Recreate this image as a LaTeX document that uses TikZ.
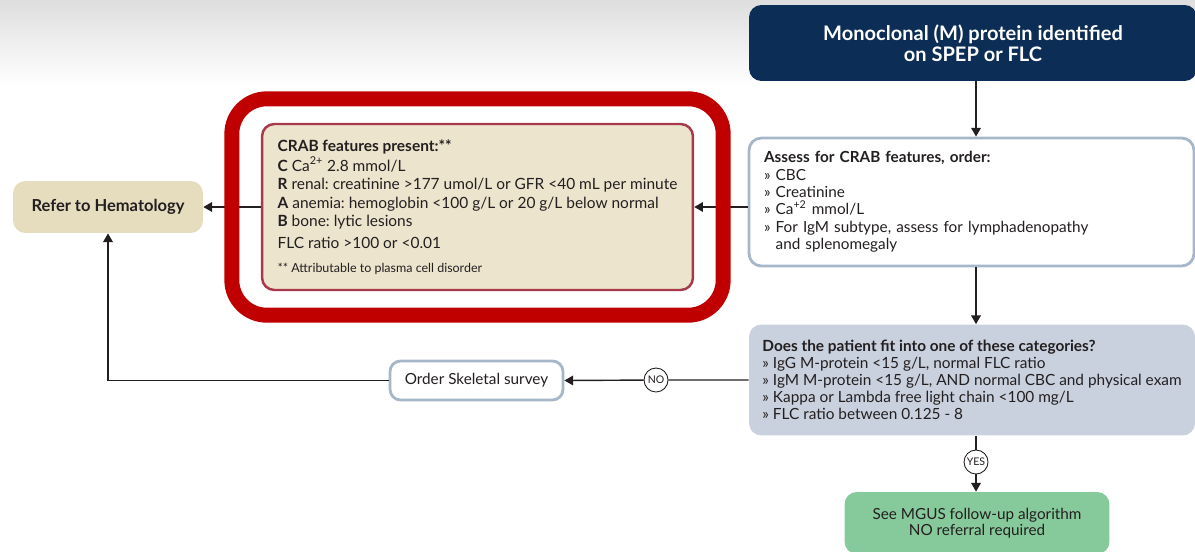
\documentclass[tikz,border=0pt]{standalone}
\usepackage{fontspec}
\setmainfont{Lato}
\frenchspacing
\usetikzlibrary{arrows.meta,fit}

\definecolor{navy}{RGB}{12,45,85}
\definecolor{edgeblue}{RGB}{167,183,202}
\definecolor{catfill}{RGB}{201,209,222}
\definecolor{mgusgreen}{RGB}{134,201,155}
\definecolor{tan}{RGB}{230,221,191}
\definecolor{crabfill}{RGB}{236,228,205}
\definecolor{crabedge}{RGB}{168,57,77}
\definecolor{alertred}{RGB}{192,0,0}
\definecolor{ink}{RGB}{35,31,32}

\tikzset{
  box/.style={rounded corners=7pt, inner sep=0pt, text=ink,
    font=\fontsize{8.75}{9.6}\selectfont},
  listbox/.style={box, align=left, inner xsep=0.3cm},
  arr/.style={-{Triangle[length=5pt,width=5.5pt]}, line width=0.8pt, ink},
  tag/.style={circle, draw=ink, fill=white, line width=0.5pt, inner sep=0pt,
    minimum size=0.48cm, font=\fontsize{6}{6}\selectfont, text=ink}
}

\begin{document}
\begin{tikzpicture}[x=0.02cm,y=-0.02cm]
\useasboundingbox (0,0) rectangle (1195,551);
\clip (0,0) rectangle (1195,551);
\shade[top color=black!13, bottom color=white] (0,0) rectangle (1195,85);

% main column
\node[box, fill=navy, text=white, font=\fontsize{11.4}{12}\selectfont\bfseries, align=center,
  minimum width=8.96cm, minimum height=1.52cm] (mprot) at (973,43)
  {Monoclonal (M) protein identified\\on SPEP or FLC};
\node[listbox, draw=edgeblue, line width=1.6pt, fill=white, text width=8.3cm,
  font=\fontsize{8.7}{9.9}\selectfont,
  minimum width=8.86cm, minimum height=2.56cm] (assess) at (971.5,202)
  {\textbf{Assess for CRAB features, order:}\\
   » CBC\\
   » Creatinine\\
   » Ca\textsuperscript{+2} mmol/L\\
   » For IgM subtype, assess for lymphadenopathy\\
   \hphantom{» }and splenomegaly};
\node[box, align=left, fill=catfill,
  minimum width=8.92cm, minimum height=2.22cm] (cats) at (972,380)
  {\textbf{Does the patient fit into one of these categories?}\\
   » IgG M-protein <15 g/L, normal FLC ratio\\
   » IgM M-protein <15 g/L, AND normal CBC and physical exam\\
   » Kappa or Lambda free light chain <100 mg/L\\
   » FLC ratio between 0.125 - 8};
\node[tag] (yes) at (976,462) {YES};
\node[box, fill=mgusgreen, align=center, font=\fontsize{8.7}{9.4}\selectfont,
  minimum width=5.3cm, minimum height=1.24cm] (mgus) at (977,523)
  {See MGUS follow-up algorithm\\NO referral required};

% left side
\node[box, fill=crabfill, draw=crabedge, line width=1.4pt, align=left,
  font=\fontsize{8.8}{10.5}\selectfont,
  minimum width=8.62cm, minimum height=3.32cm] (crab) at (477.5,207)
  {\textbf{CRAB features present:**}\\[1pt]
   \textbf{C} Ca\textsuperscript{2+} 2.8 mmol/L\\
   \textbf{R} renal: creatinine >177 umol/L or GFR <40 mL per minute\\
   \textbf{A} anemia: hemoglobin <100 g/L or 20 g/L below normal\\
   \textbf{B} bone: lytic lesions\\[2pt]
   FLC ratio >100 or <0.01\\[3pt]
   {\fontsize{7.1}{8}\selectfont ** Attributable to plasma cell disorder}};
\node[box, fill=tan, font=\fontsize{9.4}{10}\selectfont\bfseries,
  minimum width=3.8cm, minimum height=1.04cm] (refer) at (108,207)
  {Refer to Hematology};
\node[box, rounded corners=6pt, draw=edgeblue, line width=1.6pt, fill=white,
  font=\fontsize{8.7}{9.6}\selectfont,
  minimum width=3.46cm, minimum height=0.78cm] (skel) at (476.5,380.5)
  {Order Skeletal survey};
\node[tag] (no) at (656,380) {NO};

% connectors
\draw[arr] (mprot.south -| yes) -- (assess.north -| yes);
\draw[arr] (assess.south -| yes) -- (cats.north -| yes);
\draw[arr] (cats.south -| yes) -- (yes) -- (mgus.north -| yes);
\draw[arr] (assess.west |- crab.east) -- (crab.east);
\draw[arr] (crab.west) -- (refer.east);
\draw[arr] (cats.west |- no) -- (no) -- (skel.east);
\draw[arr] (skel.west) -| (refer.south);

% highlight
\node[draw=alertred, line width=8.5pt, rounded corners=20pt, fit=(crab),
  inner xsep=0.58cm, inner ysep=0.48cm] (alert) {};
\end{tikzpicture}
\end{document}
